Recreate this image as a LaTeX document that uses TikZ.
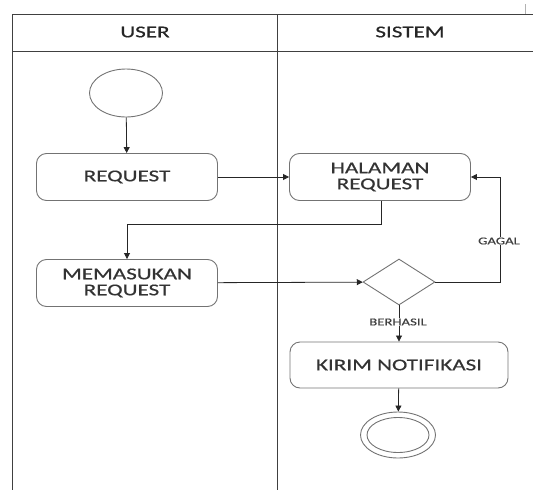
\documentclass[tikz,border=0pt]{standalone}
\usepackage{fontspec}
\setmainfont{Carlito}[FakeStretch=1.4,FakeBold=0.6]
\usetikzlibrary{shapes.geometric,arrows.meta}
\begin{document}
\begin{tikzpicture}[x=1pt,y=-1pt,
  frame/.style={draw=black!75,line width=1pt},
  act/.style={draw=black!55,line width=0.9pt,rounded corners=10pt,minimum width=181pt,minimum height=47pt,align=center,inner sep=0pt,font=\fontsize{16.5}{17}\selectfont,text=black!80},
  flow/.style={draw=black!85,line width=0.8pt,-{Triangle[length=6pt,width=6pt]}},
  lbl/.style={font=\fontsize{10.5}{11}\selectfont,text=black!75,fill=white,inner sep=1pt},
  hdr/.style={font=\fontsize{16.5}{17}\selectfont,text=black!85}]
\useasboundingbox (0,0) rectangle (533,490);
% frame
\draw[frame] (533,14) -- (12,14) -- (12,490);
\draw[frame] (12,51) -- (533,51);
\draw[frame] (277,14) -- (277,490);
\draw[black!30,line width=0.6pt] (525,4) -- (525,14);
\node[hdr] (huser) at (145,32) {USER};
\node[hdr] (hsis) at (410,32) {SISTEM};
% nodes
\node[ellipse,draw=black!55,line width=0.9pt,minimum width=73pt,minimum height=48pt,inner sep=0pt] (start) at (126,93) {};
\node[act] (req) at (127,177) {REQUEST};
\node[act] (hal) at (380,177) {HALAMAN\\[-1pt]REQUEST};
\node[act] (mem) at (127,283) {MEMASUKAN\\[-1pt]REQUEST};
\node[diamond,aspect=1.55,draw=black!55,line width=0.9pt,minimum width=72pt,minimum height=46pt,inner sep=0pt] (dec) at (399,282) {};
\node[act,minimum width=218pt,minimum height=46pt] (kirim) at (399,365) {KIRIM NOTIFIKASI};
\node[ellipse,draw=black!55,line width=0.9pt,minimum width=75pt,minimum height=46pt,inner sep=0pt] (endo) at (398,435) {};
\node[ellipse,draw=black!55,line width=0.9pt,minimum width=62pt,minimum height=35pt,inner sep=0pt] (endi) at (398,435) {};
% connectors
\draw[flow] (start) -- (req);
\draw[flow] (req) -- (hal);
\coordinate (h1) at (381,224);
\coordinate (h2) at (127,224);
\draw[flow] (hal.south -| h1) -- (h1) -- (h2) -- (mem);
\draw[flow] (mem) -- (dec);
\coordinate (g1) at (500,282);
\coordinate (g2) at (500,177);
\draw[flow] (dec.east) -- (g1) -- (g2) -- (hal.east);
\node[lbl] (gagal) at (499,241) {GAGAL};
\draw[flow] (dec.south) -- (kirim.north);
\node[lbl] (berhasil) at (398,322) {BERHASIL};
\draw[flow] (kirim) -- (endo);
\end{tikzpicture}
\end{document}
